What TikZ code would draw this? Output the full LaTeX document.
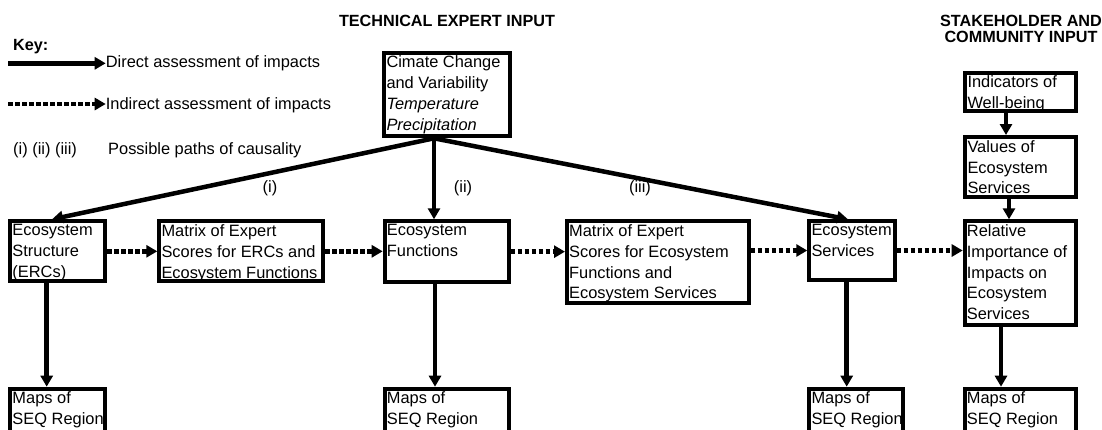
\documentclass[tikz,border=0pt]{standalone}
\usepackage{fontspec}
\setmainfont{Liberation Sans}
\usetikzlibrary{arrows.meta,calc}
\tikzset{
  bx/.style={draw, line width=4pt, inner sep=0pt, outer sep=2pt, rectangle},
  txt/.style={inner sep=0pt, align=left, font=\fontsize{16.4}{20.8}\selectfont},
  ttl/.style={inner sep=0pt, align=center, font=\bfseries\fontsize{16.2}{16}\selectfont},
  arr/.style={line width=4.5pt, -{Triangle[length=11pt,width=12pt]}},
  darr/.style={arr, dash pattern=on 4.5pt off 2.5pt},
}
\newcommand\mybox[6]{%
  \node[bx, minimum width={#4-#2-4}, minimum height={#5-#3-4}] (#1) at ({(#2+#4)/2},{(#3+#5)/2}) {};
  \node[txt, anchor=north west] (#1t) at ([shift={(4pt,-5.2pt)}]#1.north west) {#6};
}
\begin{document}
\begin{tikzpicture}[x=1pt,y=-1pt]
\useasboundingbox (0,0) rectangle (1102,429);
\clip (0,0) rectangle (1102,429);

% titles
\node[ttl, anchor=base] (tech) at (447,26.5) {TECHNICAL EXPERT INPUT};
\node[ttl, anchor=base] (stake) at (1021,42) {STAKEHOLDER AND\\COMMUNITY INPUT};

% key
\node[ttl, anchor=base west] (key) at (13,50) {Key:};
\node[txt, anchor=base west] (kt1) at (105.7,67.7) {Direct assessment of impacts};
\node[txt, anchor=base west] (kt2) at (105.7,109.4) {Indirect assessment of impacts};
\node[txt, anchor=base west] (kt3a) at (13,154.5) {(i) (ii) (iii)};
\node[txt, anchor=base west] (kt3b) at (108,154.5) {Possible paths of causality};
\coordinate (k1) at (8,63.3);
\coordinate (k2) at (8,104);
\draw[arr] (k1) -- (kt1.west |- k1);
\draw[darr] (k2) -- (kt2.west |- k2);

% boxes
\mybox{clim}{382.3}{50.7}{511.7}{138.3}{Cimate Change\\and Variability\\\textit{Temperature}\\\textit{Precipitation}}
\mybox{ind}{963.3}{70.7}{1078.3}{113.3}{Indicators of\\Well-being}
\mybox{val}{963.3}{135}{1078.3}{199}{Values of\\Ecosystem\\Services}
\mybox{es}{8.3}{219.3}{107.3}{283.3}{Ecosystem\\Structure\\(ERCs)}
\mybox{mone}{157.3}{219.3}{325}{283.3}{Matrix of Expert\\Scores for ERCs and\\Ecosystem Functions}
\mybox{func}{382.7}{219.3}{510.7}{284}{Ecosystem\\Functions}
\mybox{mtwo}{565}{219.3}{750.7}{305}{Matrix of Expert\\Scores for Ecosystem\\Functions and\\Ecosystem Services}
\mybox{serv}{807.3}{219.3}{896.7}{281.7}{Ecosystem\\Services}
\mybox{rel}{962.7}{219.3}{1078.3}{326.7}{Relative\\Importance of\\Impacts on\\Ecosystem\\Services}
\mybox{mapa}{8.3}{386.7}{106.7}{440}{Maps of\\SEQ Region}
\mybox{mapb}{382.7}{386.7}{511}{440}{Maps of\\SEQ Region}
\mybox{mapc}{807.3}{386.7}{905}{440}{Maps of\\SEQ Region}
\mybox{mapd}{962.7}{386.7}{1078.3}{440}{Maps of\\SEQ Region}

% causal paths from climate
\coordinate (src) at (434,0 |- clim.south);
\draw[arr] (src) -- (52,0 |- es.north);
\draw[arr] (src) -- (434,0 |- func.north);
\draw[arr] (src) -- (848,0 |- serv.north);
\node[txt, anchor=base] (li) at (270,192) {(i)};
\node[txt, anchor=base] (lii) at (463,192) {(ii)};
\node[txt, anchor=base] (liii) at (640,192) {(iii)};

% indirect (dotted) arrows
\draw[darr] (es.east) -- (mone.west |- es.east);
\draw[darr] (mone.east) -- (func.west |- mone.east);
\draw[darr] (func.east) -- (mtwo.west |- func.east);
\draw[darr] (mtwo.east |- serv.west) -- (serv.west);
\draw[darr] (serv.east) -- (rel.west |- serv.east);

% vertical arrows
\draw[arr] (46.7,0 |- es.south) -- (46.7,0 |- mapa.north);
\draw[arr] (435,0 |- func.south) -- (435,0 |- mapb.north);
\draw[arr] (846.7,0 |- serv.south) -- (846.7,0 |- mapc.north);
\draw[arr] (1001,0 |- rel.south) -- (1001,0 |- mapd.north);
\draw[arr] (1006,0 |- ind.south) -- (1006,0 |- val.north);
\draw[arr] (1009,0 |- val.south) -- (1009,0 |- rel.north);
\end{tikzpicture}
\end{document}
